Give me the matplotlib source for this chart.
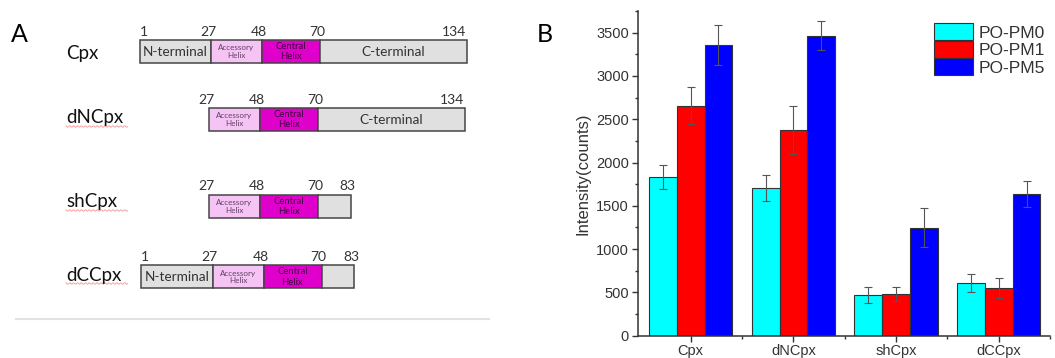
import matplotlib.pyplot as plt
import matplotlib.patches as mpatches
import numpy as np

# ---- data ----
# panel A: domain boundaries (residue numbers) for each construct
constructs = ["Cpx", "dNCpx", "shCpx", "dCCpx"]
bounds = {
    "Cpx":   [1, 27, 48, 70, 134],
    "dNCpx": [27, 48, 70, 134],
    "shCpx": [27, 48, 70, 83],
    "dCCpx": [1, 27, 48, 70, 83],
}
seg_names = {
    "Cpx":   ["N-terminal", "Accessory\nHelix", "Central\nHelix", "C-terminal"],
    "dNCpx": ["Accessory\nHelix", "Central\nHelix", "C-terminal"],
    "shCpx": ["Accessory\nHelix", "Central\nHelix", ""],
    "dCCpx": ["N-terminal", "Accessory\nHelix", "Central\nHelix", ""],
}
underlined = ["dNCpx", "shCpx", "dCCpx"]

# panel B: intensity (counts)
cats = ["Cpx", "dNCpx", "shCpx", "dCCpx"]
series = ["PO-PM0", "PO-PM1", "PO-PM5"]
pm0 = [1835, 1705, 470, 608]
pm0_err = [140, 150, 90, 105]
pm1 = [2655, 2375, 482, 555]
pm1_err = [215, 275, 80, 115]
pm5 = [3355, 3465, 1245, 1640]
pm5_err = [230, 170, 225, 150]

# ---- layout / style ----
# the diagram is not to scale: residue -> pixel column on the figure
res_x = {1: 139.5, 27: 211.0, 48: 262.0, 70: 320.0, 83: 352.5, 134: 466.5}
row_shift = {"Cpx": 0, "dNCpx": -2, "shCpx": -2, "dCCpx": 1.5}
row_top = {"Cpx": 39.5, "dNCpx": 107.5, "shCpx": 194.5, "dCCpx": 265}
row_lab_y = {"Cpx": 53, "dNCpx": 118, "shCpx": 202, "dCCpx": 275}
box_h = 23
seg_color = {"N-terminal": "#e0e0e0", "C-terminal": "#e0e0e0", "": "#e0e0e0",
             "Accessory\nHelix": "#f5c4f5", "Central\nHelix": "#e000cc"}
seg_text = {"N-terminal": ("#333333", 9.8), "C-terminal": ("#333333", 9.8), "": ("#333333", 9),
            "Accessory\nHelix": ("#5e405e", 5.8), "Central\nHelix": ("#40003e", 6.8)}
bar_colors = ["#00ffff", "#ff0000", "#0000ff"]

W, H = 1055, 358
fig = plt.figure(figsize=(W / 100, H / 100), dpi=100)

# ---- panel A (drawn in pixel coordinates) ----
axA = fig.add_axes([0, 0, 1, 1])
axA.set_xlim(0, W)
axA.set_ylim(H, 0)
axA.axis("off")
fontA = "Lato"

axA.text(11, 34, "A", fontsize=18, family=fontA, va="center", ha="left")
axA.text(537, 34, "B", fontsize=18, family=fontA, va="center", ha="left")

for name in constructs:
    b = bounds[name]
    y0 = row_top[name]
    sh = row_shift[name]
    axA.text(66, row_lab_y[name], name, fontsize=13.5, family=fontA,
             va="center", ha="left", color="#111111")
    if name in underlined:
        wx = np.linspace(66, 66 + 9.5 * len(name) + 14, 120)
        wy = row_lab_y[name] + 8.5 + 0.7 * np.sin(wx * 1.6)
        axA.plot(wx, wy, color="#f28a8a", lw=0.7, alpha=0.8)
    for i, seg in enumerate(seg_names[name]):
        xa = res_x[b[i]] + sh
        xb = res_x[b[i + 1]] + sh
        rect = mpatches.Rectangle((xa, y0), xb - xa, box_h, facecolor=seg_color[seg],
                                  edgecolor="#454545", lw=1.1, zorder=2)
        axA.add_patch(rect)
        if seg:
            col, fs = seg_text[seg]
            t = axA.text((xa + xb) / 2, y0 + box_h / 2 + 0.5, seg, fontsize=fs,
                         family=fontA, ha="center", va="center", color=col,
                         linespacing=1.15, zorder=3)
            t.set_clip_path(rect)
    # residue numbers
    for j, r in enumerate(b):
        x = res_x[r] + sh
        if j == 0 and r == 1:
            ha = "left"
        elif j == len(b) - 1 and r == 134:
            ha = "right"
        else:
            ha, x = "center", x - 3
        axA.text(x, y0 - 8, str(r), fontsize=10, family=fontA, ha=ha,
                 va="center", color="#333333")

axA.plot([16, 489], [318.5, 318.5], color="#e2e2e2", lw=1.5)

# ---- panel B ----
fontB = "Liberation Sans"
left_px, bottom_px, top_px = 638, 335.7, 11
x_lo, x_hi = -0.513, 3.5
group_px = 102.7
axB = fig.add_axes([left_px / W, (H - bottom_px) / H,
                    (x_hi - x_lo) * group_px / W, (bottom_px - top_px) / H])

x = np.arange(len(cats))
bw = 0.27
err_kw = dict(ecolor="#555555", elinewidth=0.8, capsize=2.6, capthick=0.8)
for k, (vals, errs) in enumerate([(pm0, pm0_err), (pm1, pm1_err), (pm5, pm5_err)]):
    axB.bar(x + (k - 1) * bw, vals, bw, yerr=errs, color=bar_colors[k],
            edgecolor="#333333", linewidth=0.8, label=series[k], error_kw=err_kw)

axB.set_xlim(x_lo, x_hi)
axB.set_ylim(0, 3750)
axB.set_yticks(np.arange(0, 3501, 500))
axB.set_yticks(np.arange(250, 3751, 500), minor=True)
axB.set_xticks(x)
axB.set_xticks(x + 0.5, minor=True)
axB.set_xticklabels(cats)
for lab in axB.get_xticklabels() + axB.get_yticklabels():
    lab.set_family(fontB)
    lab.set_fontsize(10.5)
    lab.set_color("#333333")
axB.tick_params(which="major", length=4, width=1, color="#333333", pad=2.5)
axB.tick_params(axis="x", which="major", pad=2)
axB.tick_params(which="minor", length=2.5, width=1, color="#333333")
for s in ["top", "right"]:
    axB.spines[s].set_visible(False)
for s in ["left", "bottom"]:
    axB.spines[s].set_color("#333333")
    axB.spines[s].set_linewidth(1.1)
axB.set_ylabel("Intensity(counts)", family=fontB, fontsize=12, color="#333333",
               labelpad=4)

fs_leg = 12.5
leg = axB.legend(loc="upper left", bbox_to_anchor=(934 / W, 1 - 23 / H),
                 bbox_transform=fig.transFigure, frameon=False, borderpad=0,
                 borderaxespad=0, labelspacing=0, handlelength=39 / (fs_leg * 100 / 72),
                 handleheight=20 / (fs_leg * 100 / 72), handletextpad=0.35,
                 prop={"family": fontB, "size": fs_leg})
for t in leg.get_texts():
    t.set_color("#333333")

fig.savefig("out.png", dpi=100)
